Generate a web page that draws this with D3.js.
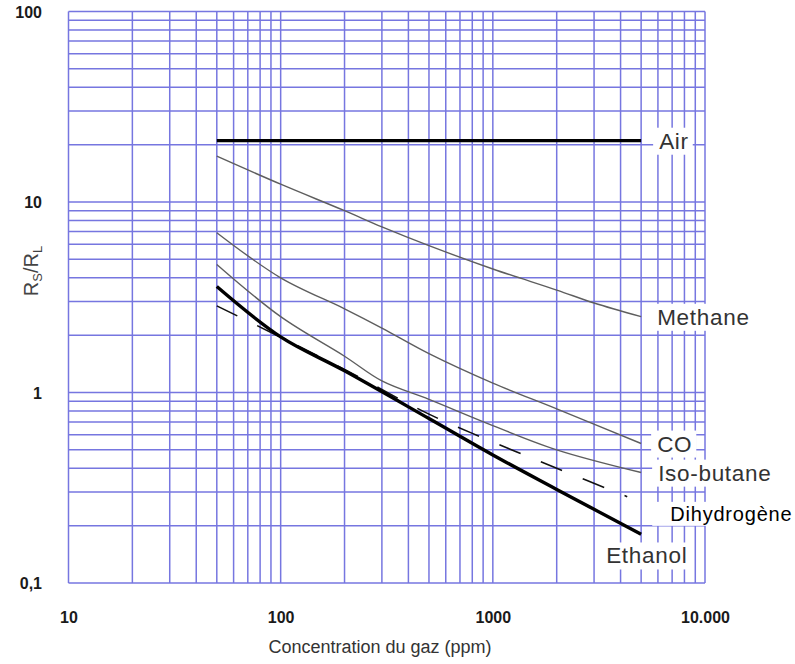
<!DOCTYPE html>
<html>
<head>
<meta charset="utf-8">
<script src="https://cdn.jsdelivr.net/npm/d3@7"></script>
<style>
    body { margin: 0; background: #fff; }
    svg { display: block; font-family: "Liberation Sans", Arial, sans-serif; }
</style>
</head>
<body>
<svg id="chart"></svg>
<script>
// values (ppm -> Rs/RL)
var airX = [50, 5000],
    airY = [21, 21];
var methaneX = [50, 100, 200, 300, 500, 1000, 2000, 3000, 5000],
    methaneY = [17.4, 12.4, 9.0, 7.4, 5.9, 4.45, 3.45, 2.95, 2.5];
var coX = [50, 100, 200, 300, 500, 1000, 2000, 5000],
    coY = [6.9, 4.0, 2.75, 2.18, 1.6, 1.12, 0.82, 0.54];
var isoButaneX = [50, 100, 200, 300, 500, 1000, 2000, 5000],
    isoButaneY = [4.7, 2.5, 1.55, 1.15, 0.92, 0.67, 0.5, 0.38];
var hydrogenX = [50, 100, 200, 500, 1000, 2000, 4300],
    hydrogenY = [2.85, 1.95, 1.32, 0.77, 0.55, 0.4, 0.284];
var ethanolX = [50, 100, 200, 500, 1000, 2000, 5000],
    ethanolY = [3.6, 1.96, 1.3, 0.73, 0.47, 0.31, 0.18];

var xTickValues = [10, 100, 1000, 10000],
    xTickLabels = ["10", "100", "1000", "10.000"];
var yTickValues = [0.1, 1, 10, 100],
    yTickLabels = ["0,1", "1", "10", "100"];

function zip(xs, ys) {
    return xs.map(function (x, i) { return {x: x, y: ys[i]}; });
}

var series = [
    {name: "Air", data: zip(airX, airY), kind: "thick", dx: 18, dy: 0},
    {name: "Methane", data: zip(methaneX, methaneY), kind: "thin", dx: 16, dy: 0},
    {name: "CO", data: zip(coX, coY), kind: "thin", dx: 16, dy: 0},
    {name: "Iso-butane", data: zip(isoButaneX, isoButaneY), kind: "thin", dx: 17, dy: 0},
    {name: "Dihydrogène", data: zip(hydrogenX, hydrogenY), kind: "dashed", dx: 43, dy: 17},
    {name: "Ethanol", data: zip(ethanolX, ethanolY), kind: "thick", dx: -35, dy: 21}
];

var svg = d3.select("#chart").attr("width", 795).attr("height", 664);

var x = d3.scaleLog().domain([10, 10000]).range([68.5, 705]),
    y = d3.scaleLog().domain([0.1, 100]).range([583, 11.5]);

var gridColor = "#7676e0";

// minor + major grid: 1..9 in each decade
function decadeValues(lo, hi) {
    var out = [];
    for (var p = lo; p < hi; p *= 10) {
        for (var k = 1; k < 10; k++) out.push(+(k * p).toPrecision(3));
    }
    out.push(hi);
    return out;
}

var grid = svg.append("g").attr("class", "grid");

grid.selectAll(".vline")
    .data(decadeValues(10, 10000))
    .enter().append("line")
    .attr("class", "vline")
    .attr("x1", function (d) { return x(d); })
    .attr("x2", function (d) { return x(d); })
    .attr("y1", y(100))
    .attr("y2", y(0.1))
    .attr("stroke", gridColor)
    .attr("stroke-width", 1.5);

grid.selectAll(".hline")
    .data(decadeValues(0.1, 100))
    .enter().append("line")
    .attr("class", "hline")
    .attr("y1", function (d) { return y(d); })
    .attr("y2", function (d) { return y(d); })
    .attr("x1", x(10))
    .attr("x2", x(10000))
    .attr("stroke", gridColor)
    .attr("stroke-width", 1.5);

// axes (labels only, the grid is the frame)
var xAxis = svg.append("g")
    .attr("transform", "translate(0," + 623 + ")")
    .call(d3.axisBottom(x).tickValues(xTickValues).tickSize(0)
        .tickFormat(function (d, i) { return xTickLabels[i]; }));
xAxis.select(".domain").remove();
xAxis.selectAll("text")
    .attr("y", 0).attr("dy", 0)
    .attr("font-family", "Liberation Sans, Arial, sans-serif")
    .attr("font-size", 16).attr("font-weight", "bold").attr("fill", "#1a1a1a");

var yAxis = svg.append("g")
    .attr("transform", "translate(42,0)")
    .call(d3.axisLeft(y).tickValues(yTickValues).tickSize(0)
        .tickFormat(function (d, i) { return yTickLabels[i]; }));
yAxis.select(".domain").remove();
yAxis.selectAll("text")
    .attr("x", 0).attr("dy", "0.36em")
    .attr("font-family", "Liberation Sans, Arial, sans-serif")
    .attr("font-size", 16).attr("font-weight", "bold").attr("fill", "#1a1a1a");

// axis titles
svg.append("text")
    .attr("x", 380)
    .attr("y", 653)
    .attr("text-anchor", "middle")
    .attr("font-size", 18)
    .attr("fill", "#333")
    .text("Concentration du gaz (ppm)");

var yTitle = svg.append("text")
    .attr("transform", "translate(38,271) rotate(-90)")
    .attr("text-anchor", "middle")
    .attr("font-size", 20)
    .attr("fill", "#444");
yTitle.append("tspan").text("R");
yTitle.append("tspan").attr("font-size", 13).attr("dy", 4).text("S");
yTitle.append("tspan").attr("dy", -4).text("/R");
yTitle.append("tspan").attr("font-size", 13).attr("dy", 4).text("L");

// curves
var line = d3.line()
    .x(function (d) { return x(d.x); })
    .y(function (d) { return y(d.y); })
    .curve(d3.curveCatmullRom.alpha(0.5));

var styles = {
    thick: {stroke: "#000", width: 3.4, dash: null},
    thin: {stroke: "#5e5e5e", width: 1.4, dash: null},
    dashed: {stroke: "#111", width: 1.6, dash: "23,22"}
};

svg.append("g").selectAll("path")
    .data(series)
    .enter().append("path")
    .attr("d", function (d) { return line(d.data); })
    .attr("fill", "none")
    .attr("stroke", function (d) { return styles[d.kind].stroke; })
    .attr("stroke-width", function (d) { return styles[d.kind].width; })
    .attr("stroke-dasharray", function (d) { return styles[d.kind].dash; });

// curve names on white boxes
var labels = svg.append("g").selectAll("g")
    .data(series)
    .enter().append("g")
    .attr("transform", function (d) {
        var last = d.data[d.data.length - 1];
        return "translate(" + (x(last.x) + d.dx) + "," + (y(last.y) + d.dy) + ")";
    });

labels.append("text")
    .attr("dy", "0.36em")
    .attr("font-size", function (d) { return d.kind === "dashed" ? 20 : 22.5; })
    .attr("letter-spacing", function (d) { return d.kind === "dashed" ? 0.8 : 0.7; })
    .attr("fill", function (d) { return d.kind === "dashed" ? "#000" : "#333"; })
    .text(function (d) { return d.name; });

labels.insert("rect", "text")
    .each(function (d) {
        var bb = this.parentNode.querySelector("text").getBBox(),
            padLeft = d.kind === "dashed" ? 18 : 6;
        d3.select(this)
            .attr("x", bb.x - padLeft)
            .attr("y", bb.y - 1)
            .attr("width", bb.width + padLeft + 4)
            .attr("height", bb.height + 2);
    })
    .attr("fill", "#fff");
</script>
</body>
</html>
